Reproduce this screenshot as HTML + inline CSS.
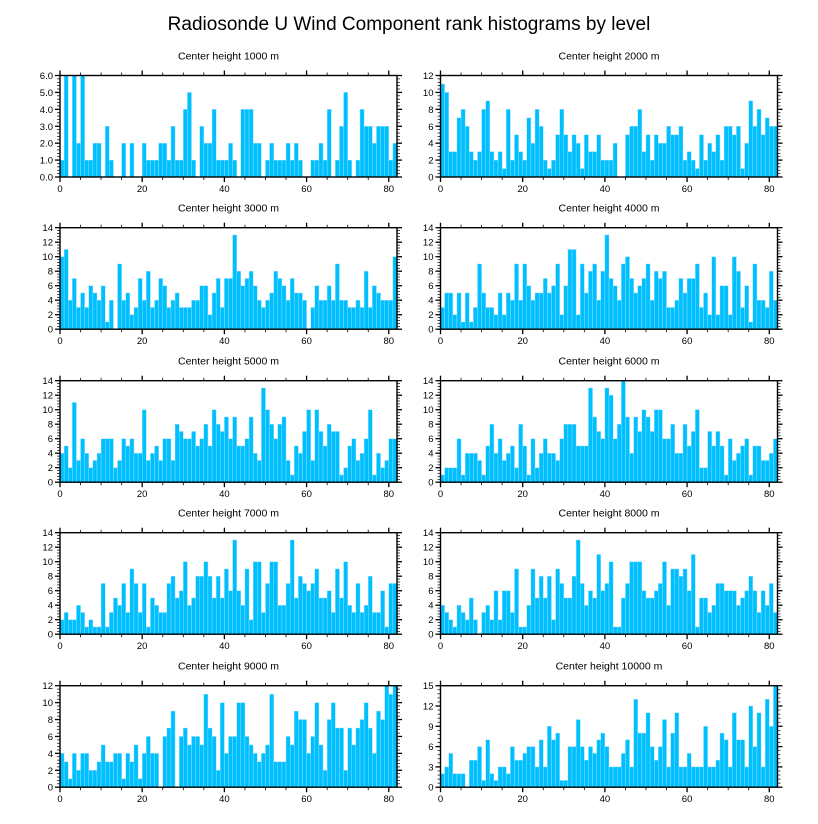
<!DOCTYPE html>
<html><head><meta charset="utf-8"><style>
html,body{margin:0;padding:0;background:#fff}
svg{display:block;font-family:"Liberation Sans",sans-serif}
</style></head><body>
<svg id="c" width="818" height="824">
<text x="409" y="30" text-anchor="middle" font-size="19">Radiosonde U Wind Component rank histograms by level</text>
</svg>
<script>
const heights = [1000,2000,3000,4000,5000,6000,7000,8000,9000,10000];
const yMaxes = [6,12,14,14,14,14,14,14,12,15];
const yStepLabels = [1,2,2,2,2,2,2,2,2,3];
const xTicks = [0,20,40,60,80];
const h1000 = [1,6,0,6,2,6,1,1,2,2,0,3,1,0,0,2,0,2,0,0,2,1,1,1,2,2,1,3,1,1,4,5,1,0,3,2,2,4,1,1,1,2,1,0,4,4,4,2,2,0,1,2,1,1,1,2,1,2,1,0,0,1,1,2,1,4,0,1,3,5,1,0,1,4,3,3,2,3,3,3,1,2];
const h2000 = [11,10,3,3,7,8,6,3,2,3,8,9,3,2,3,1,8,2,5,3,2,7,4,8,6,2,1,2,5,8,5,3,5,4,1,5,3,3,5,2,2,2,4,0,0,5,6,6,8,3,5,2,5,4,4,6,5,5,6,2,3,2,1,5,2,4,3,5,2,6,6,5,6,1,4,9,6,8,5,7,6,6];
const h3000 = [10,11,4,7,3,5,3,6,5,4,6,1,4,0,9,4,5,2,3,7,4,8,3,4,7,6,3,4,5,3,3,3,4,4,6,6,2,5,7,3,7,7,13,8,6,7,8,6,4,3,4,5,8,7,6,4,7,5,5,4,0,3,6,4,4,6,4,9,4,4,3,3,4,3,8,3,6,5,4,4,4,10];
const h4000 = [3,5,5,2,5,1,5,1,3,9,5,3,3,2,5,2,5,4,9,4,9,6,4,5,5,7,5,6,9,2,6,11,11,2,9,5,8,9,4,8,13,7,6,4,9,10,7,5,6,7,9,4,8,7,8,3,3,4,7,5,7,7,9,3,5,2,10,2,6,6,2,10,8,3,6,1,9,4,4,3,8,4];
const h5000 = [4,5,2,11,3,6,4,2,3,4,6,6,6,2,3,6,5,6,4,4,10,3,4,5,3,6,6,3,8,7,6,6,7,5,6,8,5,10,8,7,9,6,9,5,5,6,9,4,3,13,10,8,6,8,9,3,1,5,4,7,10,3,10,7,5,8,7,7,1,2,5,6,3,4,6,10,1,4,2,3,6,6];
const h6000 = [1,2,2,2,6,1,4,4,4,3,1,5,8,4,6,3,4,5,2,8,5,1,6,2,4,6,4,4,3,6,8,8,8,5,5,5,13,9,7,6,13,12,6,8,14,9,4,9,7,10,9,7,10,10,6,6,8,4,4,8,5,7,10,2,2,7,5,7,5,1,6,3,4,5,6,1,5,5,3,3,4,6];
const h7000 = [2,3,2,2,4,3,1,2,1,1,7,1,3,5,4,7,3,9,7,3,7,1,5,4,3,3,7,8,5,6,10,4,5,8,8,10,8,5,8,5,9,6,13,6,4,9,2,10,10,3,7,10,10,4,4,7,13,5,8,7,6,7,9,5,5,6,3,9,5,10,4,3,7,3,4,8,3,3,6,1,7,7];
const h8000 = [4,3,2,1,4,3,2,5,2,0,3,4,2,6,2,6,6,3,9,1,1,4,9,5,8,5,8,2,9,7,5,5,8,13,7,4,6,5,11,6,7,10,1,1,5,7,10,10,10,6,5,5,6,7,10,4,9,9,8,9,6,11,1,5,5,3,4,7,7,6,6,6,4,5,6,8,6,3,6,4,7,3];
const h9000 = [4,3,1,4,2,4,4,2,2,3,5,3,3,4,4,1,4,3,5,1,4,6,4,4,0,6,7,9,0,6,7,5,6,6,5,11,7,6,2,10,4,6,6,10,10,6,5,4,3,4,5,11,3,3,3,6,5,9,8,8,4,6,10,5,2,8,10,7,7,2,7,5,7,8,10,7,4,9,8,12,11,12];
const h10000 = [2,3,5,2,2,2,0,4,4,6,1,7,2,1,3,3,2,6,4,4,5,6,6,3,7,3,9,7,8,1,1,6,6,10,6,4,6,5,7,8,6,3,3,3,5,7,3,13,8,8,11,6,4,6,10,3,8,11,3,3,5,3,3,3,9,3,3,4,8,7,3,11,7,7,3,12,6,11,3,13,9,15];
const series = [h1000,h2000,h3000,h4000,h5000,h6000,h7000,h8000,h9000,h10000];

const NS='http://www.w3.org/2000/svg';
const svg=document.getElementById('c');
function mk(tag,attrs,parent){const e=document.createElementNS(NS,tag);for(const k in attrs)e.setAttribute(k,attrs[k]);(parent||svg).appendChild(e);return e;}
const PW=337, PH=101.5, XMAX=82;
const lefts=[60,440.5], tops=[75.5,227.7,380.7,532.7,685.7];
series.forEach((vals,p)=>{
  const x0=lefts[p%2], y0=tops[Math.floor(p/2)];
  const ymax=yMaxes[p];
  const g=mk('g',{});
  
  
  const sx=v=>x0+v/XMAX*PW, sy=v=>y0+PH-v/ymax*PH;
  const t=mk('text',{x:x0+PW/2,y:y0-16,'text-anchor':'middle','font-size':'10.5'},g);
  t.textContent='Center height '+heights[p]+' m';
  
  
  vals.forEach((v,i)=>{
    if(v<=0) return;
    const r=mk('rect',{x:sx(i),y:sy(v),width:sx(i+1)-sx(i),height:sy(0)-sy(v),fill:'#00bfff',stroke:'#9fe3ff','stroke-width':'0.4'},g);
    
    
  });
  const fr=mk('rect',{x:x0,y:y0,width:PW,height:PH,fill:'none',stroke:'#000','stroke-width':'1.4'},g);
  
  
  // x ticks
  for(let v=0;v<=XMAX;v+=5){
    const major=v%20===0, L=major?5:3, x=sx(v);
    mk('line',{x1:x,x2:x,y1:y0,y2:y0-L,stroke:'#000','stroke-width':major?1.3:0.8},g);
    mk('line',{x1:x,x2:x,y1:y0+PH,y2:y0+PH+L,stroke:'#000','stroke-width':major?1.3:0.8},g);
  }
  xTicks.forEach(v=>{
    const tl=mk('text',{x:sx(v),y:y0+PH+15,'text-anchor':'middle','font-size':'9.5'},g);
    tl.textContent=v;
    
    
  });
  // y ticks
  const st=yStepLabels[p], minor=st/5;
  for(let k=0;k<=Math.round(ymax/minor);k++){
    const v=k*minor, y=sy(v), major=k%5===0, L=major?5:3;
    mk('line',{x1:x0,x2:x0-L,y1:y,y2:y,stroke:'#000','stroke-width':major?1.3:0.7},g);
    mk('line',{x1:x0+PW,x2:x0+PW+L,y1:y,y2:y,stroke:'#000','stroke-width':major?1.3:0.7},g);
  }
  for(let v=0;v<=ymax+1e-9;v+=st){
    const yl=mk('text',{x:x0-7,y:sy(v)+3.5,'text-anchor':'end','font-size':'9.5'},g);
    yl.textContent=ymax===6?v.toFixed(1):v;
    
    
  }
});
</script>
</body></html>
